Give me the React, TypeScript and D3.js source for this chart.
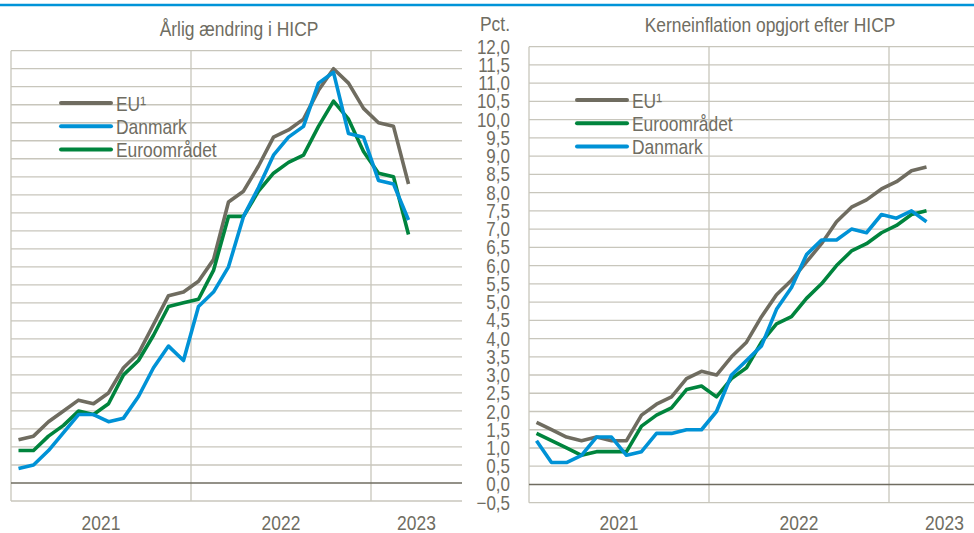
import * as d3 from 'd3';
import React, { useEffect, useRef } from 'react';

// months on the category axis (data runs jan 21 - mar 23, axis to jun 23)
const months = [
  "jan21", "feb21", "mar21", "apr21", "maj21", "jun21", "jul21", "aug21", "sep21", "okt21", "nov21", "dec21",
  "jan22", "feb22", "mar22", "apr22", "maj22", "jun22", "jul22", "aug22", "sep22", "okt22", "nov22", "dec22",
  "jan23", "feb23", "mar23", "apr23", "maj23", "jun23",
];
const years = ["2021", "2022", "2023"];
const yTicks = [12, 11.5, 11, 10.5, 10, 9.5, 9, 8.5, 8, 7.5, 7, 6.5, 6, 5.5, 5, 4.5, 4, 3.5, 3, 2.5, 2, 1.5, 1, 0.5, 0, -0.5];

// Årlig ændring i HICP
const hicpEU = [1.2, 1.3, 1.7, 2.0, 2.3, 2.2, 2.5, 3.2, 3.6, 4.4, 5.2, 5.3, 5.6, 6.2, 7.8, 8.1, 8.8, 9.6, 9.8, 10.1, 10.9, 11.5, 11.1, 10.4, 10.0, 9.9, 8.3];
const hicpDK = [0.4, 0.5, 0.9, 1.4, 1.9, 1.9, 1.7, 1.8, 2.4, 3.2, 3.8, 3.4, 4.9, 5.3, 6.0, 7.4, 8.2, 9.1, 9.6, 9.9, 11.1, 11.4, 9.7, 9.6, 8.4, 8.3, 7.3];
const hicpEA = [0.9, 0.9, 1.3, 1.6, 2.0, 1.9, 2.2, 3.0, 3.4, 4.1, 4.9, 5.0, 5.1, 5.9, 7.4, 7.4, 8.1, 8.6, 8.9, 9.1, 9.9, 10.6, 10.1, 9.2, 8.6, 8.5, 6.9];

// Kerneinflation opgjort efter HICP
const coreEU = [1.7, 1.5, 1.3, 1.2, 1.3, 1.2, 1.2, 1.9, 2.2, 2.4, 2.9, 3.1, 3.0, 3.5, 3.9, 4.6, 5.2, 5.6, 6.1, 6.6, 7.2, 7.6, 7.8, 8.1, 8.3, 8.6, 8.7];
const coreEA = [1.4, 1.2, 1.0, 0.8, 0.9, 0.9, 0.9, 1.6, 1.9, 2.1, 2.6, 2.7, 2.4, 2.9, 3.2, 3.9, 4.4, 4.6, 5.1, 5.5, 6.0, 6.4, 6.6, 6.9, 7.1, 7.4, 7.5];
const coreDK = [1.2, 0.6, 0.6, 0.8, 1.3, 1.3, 0.8, 0.9, 1.4, 1.4, 1.5, 1.5, 2.0, 3.0, 3.4, 3.8, 4.8, 5.4, 6.3, 6.7, 6.7, 7.0, 6.9, 7.4, 7.3, 7.5, 7.2];

const GRAY = "#6f6c60";
const BLUE = "#0092d6";
const GREEN = "#00843d";
const TEXT = "#6f6d62";
const GRID = "#c8c6bc";
const FONT = "'Liberation Sans', Arial, sans-serif";
const FS = 20.5;
const SX = 0.85; // squeeze Liberation Sans to look like Arial Narrow

const W = 974;
const H = 533;

// text squeezed horizontally around its anchor point
function label(g, x, y, txt, anchor = "start", size = FS) {
  return g.append("text")
    .attr("transform", "translate(" + x + "," + y + ") scale(" + SX + ",1)")
    .attr("text-anchor", anchor)
    .attr("font-size", size)
    .attr("fill", TEXT)
    .text(txt);
}

function drawPanel(svg, opts) {
  const x = d3.scaleBand().domain(months).range([opts.left, opts.left + 450]);
  const y = d3.scaleLinear().domain([-0.5, 12]).range([opts.bottom, opts.top]);
  const g = svg.append("g");

  // horizontal gridlines
  g.selectAll("line.h")
    .data(yTicks.filter(d => d !== 0))
    .enter()
    .append("line")
    .attr("x1", opts.left)
    .attr("x2", opts.end)
    .attr("y1", d => y(d))
    .attr("y2", d => y(d))
    .attr("stroke", GRID)
    .attr("stroke-width", 1.3);

  // vertical gridlines at year starts
  g.selectAll("line.v")
    .data([0, 12, 24])
    .enter()
    .append("line")
    .attr("x1", d => x(months[d]))
    .attr("x2", d => x(months[d]))
    .attr("y1", opts.top)
    .attr("y2", opts.bottom)
    .attr("stroke", GRID)
    .attr("stroke-width", 1.3);

  // zero line
  g.append("line")
    .attr("x1", opts.left)
    .attr("x2", opts.end)
    .attr("y1", y(0))
    .attr("y2", y(0))
    .attr("stroke", GRAY)
    .attr("stroke-width", 1.6);

  // year labels, centred in the visible part of each year
  years.forEach((yr, i) => {
    const a = x(months[i * 12]);
    const b = Math.min(opts.end, a + 180);
    label(g, (a + b) / 2, 530, yr, "middle");
  });

  label(g, opts.titleX, opts.titleY, opts.title, "middle");

  const line = d3.line()
    .x((d, i) => x(months[i]) + x.bandwidth() / 2)
    .y(d => y(d));

  opts.series.forEach(s => {
    g.append("path")
      .datum(s.values)
      .attr("d", line)
      .attr("fill", "none")
      .attr("stroke", s.color)
      .attr("stroke-width", 3.6)
      .attr("stroke-linejoin", "round");
  });

  // legend
  opts.legend.forEach((s, i) => {
    const ly = opts.legendY + i * 23.3;
    g.append("line")
      .attr("x1", opts.legendX)
      .attr("x2", opts.legendX + 50)
      .attr("y1", ly)
      .attr("y2", ly)
      .attr("stroke", s.color)
      .attr("stroke-width", 4)
      .attr("stroke-linecap", "round");
    label(g, opts.legendX + 55, ly + 7.5, s.name);
  });

  return y;
}

export default function App() {
  const ref = useRef(null);

  useEffect(() => {
    const svg = d3.select(ref.current);
    svg.selectAll("*").remove();

    svg.append("rect").attr("width", W).attr("height", H).attr("fill", "#fff");
    svg.append("line")
      .attr("x1", 0).attr("x2", W).attr("y1", 5).attr("y2", 5)
      .attr("stroke", "#0094d8").attr("stroke-width", 2.5);

    drawPanel(svg, {
      left: 11, end: 462, top: 50.7, bottom: 501,
      title: "Årlig ændring i HICP", titleX: 239, titleY: 36,
      series: [
        { values: hicpEU, color: GRAY },
        { values: hicpEA, color: GREEN },
        { values: hicpDK, color: BLUE },
      ],
      legend: [
        { name: "EU¹", color: GRAY },
        { name: "Danmark", color: BLUE },
        { name: "Euroområdet", color: GREEN },
      ],
      legendX: 61, legendY: 103,
    });

    const yR = drawPanel(svg, {
      left: 529, end: 1000, top: 46.7, bottom: 502.7,
      title: "Kerneinflation opgjort efter HICP", titleX: 770, titleY: 32,
      series: [
        { values: coreEU, color: GRAY },
        { values: coreEA, color: GREEN },
        { values: coreDK, color: BLUE },
      ],
      legend: [
        { name: "EU¹", color: GRAY },
        { name: "Euroområdet", color: GREEN },
        { name: "Danmark", color: BLUE },
      ],
      legendX: 577, legendY: 100,
    });

    // y axis labels for the right panel
    const fmt = d3.format(".1f");
    const ax = svg.append("g");
    yTicks.forEach(d => {
      label(ax, 510, yR(d) + 7, fmt(d).replace(".", ","), "end", 20);
    });
    label(ax, 510, 31, "Pct.", "end");
  }, []);

  return (
    <div style={{ position: "fixed", left: 0, top: 0 }}>
      <svg ref={ref} width={W} height={H} style={{ display: "block", fontFamily: FONT }} />
    </div>
  );
}
